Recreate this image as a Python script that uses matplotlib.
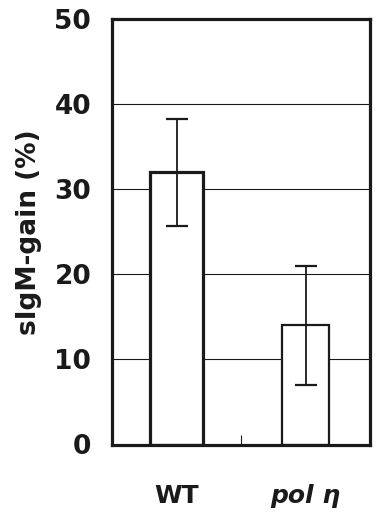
import matplotlib
matplotlib.use("Agg")
import matplotlib.pyplot as plt
from matplotlib.ticker import FixedLocator

categories = ["WT", "pol η"]
values = [32.0, 14.0]
errors = [6.3, 7.0]
yticks = [0, 10, 20, 30, 40, 50]

fig = plt.figure(figsize=(3.82, 5.18), dpi=100)
ax = fig.add_axes([112/382, 1 - 444.5/518, (370-112)/382, (444.5-19)/518])

x = list(range(len(categories)))
widths = [0.41, 0.37]
edgew = [2.3, 1.6]
for i in x:
    ax.bar(x[i], values[i], width=widths[i], color="white", edgecolor="#1a1a1a",
           linewidth=edgew[i], zorder=2)
    ax.errorbar(x[i], values[i], yerr=errors[i], fmt="none", ecolor="#1a1a1a",
                elinewidth=1.3, capsize=8, capthick=1.6, zorder=3)

ax.set_xlim(-0.5, 1.5)
ax.set_ylim(0, 50)
ax.set_yticks(yticks)
ax.set_yticklabels([str(t) for t in yticks], fontsize=19, fontweight="bold", color="#1a1a1a")
ax.tick_params(axis="y", length=0, pad=15)
ax.yaxis.grid(True, color="#1a1a1a", linewidth=0.8, zorder=0)
ax.set_axisbelow(True)

ax.set_xticks(x)
ax.set_xticklabels([])
ax.tick_params(axis="x", which="major", length=0)
ax.xaxis.set_minor_locator(FixedLocator([0.5]))
ax.tick_params(axis="x", which="minor", direction="in", length=7, width=0.8, color="#1a1a1a")

ax.text(0, -0.12, categories[0], transform=ax.get_xaxis_transform(), ha="center", va="center",
        fontsize=18, fontweight="bold", color="#1a1a1a")
ax.text(1, -0.12, categories[1], transform=ax.get_xaxis_transform(), ha="center", va="center",
        fontsize=18, fontweight="bold", fontstyle="italic", color="#1a1a1a")

ax.set_ylabel("sIgM-gain (%)", fontsize=19, fontweight="bold", color="#1a1a1a", labelpad=9)

for s in ax.spines.values():
    s.set_linewidth(2.3)
    s.set_color("#1a1a1a")

fig.savefig("out.png", dpi=100)
